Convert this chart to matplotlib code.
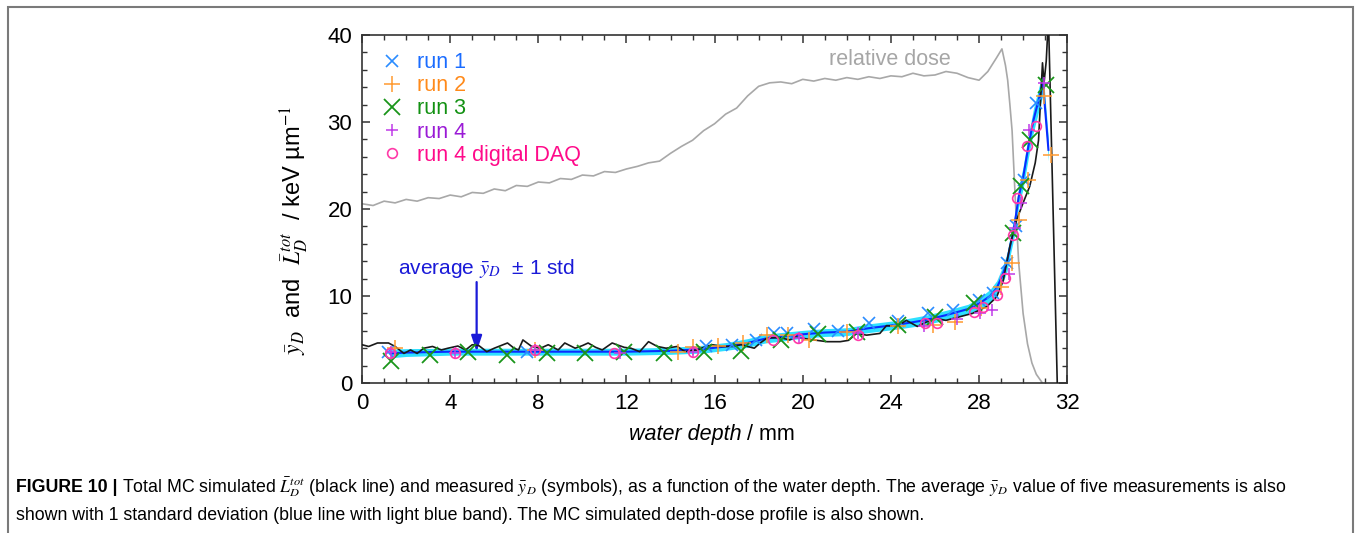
import numpy as np
import matplotlib
matplotlib.use("Agg")
import matplotlib.pyplot as plt
from matplotlib.patches import Rectangle
from matplotlib.ticker import MultipleLocator

plt.rcParams['font.family'] = ['Liberation Sans', 'DejaVu Sans']
plt.rcParams['mathtext.fontset'] = 'stix'

# relative dose (scaled to the y axis)
dose_x = [0.0, 0.5, 1.0, 1.5, 2.0, 2.5, 3.0, 3.5, 4.0, 4.5, 5.0, 5.5, 6.0, 6.5,
          7.0, 7.5, 8.0, 8.5, 9.0, 9.5, 10.0, 10.5, 11.0, 11.5, 12.0, 12.5, 13.0,
          13.5, 14.0, 14.5, 15.0, 15.5, 16.0, 16.5, 17.0, 17.5, 18.0, 18.5, 19.0,
          19.5, 20.0, 20.5, 21.0, 21.5, 22.0, 22.5, 23.0, 23.5, 24.0, 24.5, 25.0,
          25.5, 26.0, 26.5, 27.0, 27.5, 28.0, 28.4, 28.8, 29.04, 29.2, 29.3, 29.4,
          29.5, 29.64, 29.8, 30.0, 30.2, 30.4, 30.6, 30.85]
dose_y = [20.6, 20.4, 20.9, 20.7, 21.1, 20.9, 21.3, 21.2, 21.6, 21.4, 21.9, 21.8,
          22.3, 22.1, 22.7, 22.6, 23.1, 23.0, 23.5, 23.4, 23.9, 23.8, 24.3, 24.2,
          24.6, 24.9, 25.3, 25.5, 26.4, 27.2, 27.9, 29.0, 29.8, 30.9, 31.6, 33.0,
          34.1, 34.5, 34.6, 34.4, 34.9, 34.7, 35.0, 34.8, 35.1, 34.9, 35.2, 35.0,
          35.3, 35.2, 35.6, 35.3, 35.4, 35.8, 35.6, 35.1, 34.8, 35.8, 37.4, 38.4,
          36.5, 34.8, 32.0, 29.0, 21.4, 13.8, 8.0, 4.5, 2.3, 1.0, 0.1]

# MC simulated L_D^tot
mc_x = [0.0, 0.3, 0.7, 1.2, 1.5, 1.9, 2.2, 2.5, 2.8, 3.2, 3.6, 3.9, 4.35, 4.7,
        5.0, 5.3, 5.66, 6.0, 6.2, 6.6, 6.9, 7.1, 7.3, 7.7, 8.1, 8.45, 8.9, 9.2,
        9.67, 10.0, 10.26, 10.6, 10.9, 11.35, 11.56, 11.9, 12.2, 12.6, 13.0, 13.4,
        13.8, 14.3, 14.66, 15.2, 15.5, 15.9, 16.3, 16.85, 17.2, 17.5, 17.8, 18.07,
        18.4, 19.0, 19.4, 19.7, 20.1, 20.5, 21.1, 21.7, 22.07, 22.45, 22.9, 23.5,
        23.8, 24.27, 24.7, 25.2, 25.6, 26.1, 26.5, 27.1, 27.7, 28.36, 28.8, 29.1,
        29.4, 29.7, 30.0, 30.3, 30.55, 30.7, 30.8, 30.88, 30.95, 31.05, 31.15, 31.55]
mc_y = [4.4, 4.2, 4.6, 4.6, 4.2, 3.4, 3.8, 3.4, 4.0, 4.2, 3.8, 4.0, 4.25, 3.8,
        4.4, 4.3, 3.6, 4.0, 4.2, 4.6, 4.0, 3.8, 4.95, 4.2, 4.0, 4.4, 3.8, 4.6,
        4.0, 4.3, 4.6, 4.1, 3.8, 4.6, 4.4, 4.1, 4.0, 3.6, 4.75, 4.2,
        4.0, 4.2, 3.6, 3.8, 4.1, 4.4, 4.2, 4.2, 4.4, 4.2, 4.0, 4.6,
        5.2, 5.2, 4.95, 5.3, 5.1, 4.95, 4.75, 4.75, 4.9, 5.7, 5.5, 5.7,
        6.6, 6.5, 7.2, 6.5, 7.0, 7.4, 7.2, 7.6, 8.0, 8.8, 9.9, 11.8,
        15.7, 18.7, 20.7, 22.6, 25.3, 27.9, 32.9, 36.8, 34.5, 37.0, 42.0, 0.0]

# average y_D of five measurements and its standard deviation
avg_x = [1.3, 2.0, 4.0, 6.0, 8.0, 10.0, 12.0, 14.0, 15.5, 16.5, 17.5, 18.3, 19.0,
         20.0, 21.0, 22.0, 23.0, 24.3, 25.5, 26.5, 27.5, 28.05, 28.5, 28.8, 29.05,
         29.26, 29.45, 29.6, 29.8, 30.0, 30.24, 30.47, 30.7, 30.9, 31.15]
avg_y = [3.4, 3.5, 3.6, 3.6, 3.6, 3.6, 3.6, 3.7, 3.9, 4.2, 4.6, 5.1, 5.3,
         5.6, 5.8, 5.9, 6.3, 6.7, 7.2, 7.8, 8.5, 9.2, 10.0, 10.9, 12.3,
         13.8, 16.2, 18.0, 21.4, 23.6, 27.2, 30.2, 32.5, 34.5, 26.8]
avg_std = [0.5, 0.45, 0.4, 0.4, 0.4, 0.4, 0.4, 0.4, 0.45, 0.45, 0.5, 0.5, 0.5,
           0.45, 0.45, 0.45, 0.5, 0.5, 0.55, 0.55, 0.55, 0.65, 0.75, 0.85, 0.95,
           1.05, 1.1, 1.15, 1.15, 1.25, 1.3, 1.35, 1.35, 1.35, 1.25]

# measured runs
run1_x = [1.2, 7.5, 15.6, 16.8, 17.9, 18.7, 19.3, 20.5, 21.6, 23.0, 24.3, 25.7,
          26.8, 28.0, 28.65, 29.25, 29.7, 30.05, 30.6]
run1_y = [3.6, 3.6, 4.2, 4.4, 4.95, 5.7, 5.7, 6.2, 6.0, 6.9, 7.1, 8.0,
          8.4, 9.5, 10.3, 13.8, 18.0, 23.3, 32.2]
run2_x = [1.5, 7.85, 14.35, 15.0, 16.15, 17.3, 18.4, 19.35, 20.3, 22.0, 24.3, 25.9,
          26.9, 28.1, 29.0, 29.5, 29.8, 30.2, 30.95, 31.25]
run2_y = [4.0, 3.8, 3.6, 4.1, 4.3, 4.6, 5.5, 5.5, 5.0, 5.9, 6.5, 6.7,
          7.0, 8.6, 11.0, 13.8, 18.7, 23.3, 33.0, 26.2]
run3_x = [1.3, 3.1, 4.8, 6.6, 8.4, 10.1, 11.9, 13.7, 15.5, 17.2, 19.0, 20.7,
          22.45, 24.3, 26.0, 27.75, 29.55, 29.92, 30.3, 31.05]
run3_y = [2.5, 3.2, 3.6, 3.2, 3.4, 3.4, 3.6, 3.4, 3.6, 3.7, 5.0, 5.6,
          5.9, 6.7, 7.6, 9.2, 17.2, 22.6, 27.9, 34.3]
run4_x = [1.3, 4.2, 7.85, 11.7, 15.0, 19.85, 22.5, 25.5, 27.0, 28.05, 28.6,
          29.35, 29.65, 29.9, 30.25, 30.95]
run4_y = [3.6, 3.4, 3.8, 3.5, 3.6, 5.2, 5.7, 6.6, 7.3, 8.0, 8.4,
          12.5, 17.8, 20.7, 29.1, 34.5]
daq_x = [1.27, 4.2, 7.85, 11.45, 15.0, 18.65, 19.8, 22.5, 25.55, 26.1, 27.75, 28.2,
         28.8, 29.2, 29.56, 29.72, 30.17, 30.6]
daq_y = [3.4, 3.4, 3.8, 3.4, 3.6, 5.0, 5.2, 5.5, 6.9, 6.9, 8.2, 8.7,
         10.1, 12.1, 17.0, 21.3, 27.2, 29.5]

fig = plt.figure(figsize=(13.56, 5.33), dpi=100)
ax = fig.add_axes([0.267, 0.2814, 0.520, 0.653])

# frame round the whole figure
fig.patches.append(Rectangle((8 / 1356, -0.05), 1345 / 1356, 1 - 7 / 533 + 0.05,
                             transform=fig.transFigure, fill=False,
                             edgecolor='#7a7a7a', lw=1.5, clip_on=False))

ax.plot(dose_x, dose_y, color='#a8a8a8', lw=1.2, zorder=1)
lo = np.array(avg_y) - np.array(avg_std)
hi = np.array(avg_y) + np.array(avg_std)
ax.fill_between(avg_x, lo, hi, color='#2ee0ff', lw=0, zorder=2)
ax.plot(avg_x, avg_y, color='#0a2cff', lw=1.5, zorder=3)
ax.plot(mc_x, mc_y, color='#1a1a1a', lw=1.2, zorder=4)

ax.plot(run1_x, run1_y, 'x', color='#2a8cff', ms=8, mew=1.2, label='run 1', zorder=5)
ax.plot(run2_x, run2_y, '+', color='#ff9a30', ms=11, mew=1.1, label='run 2', zorder=5)
ax.plot(run3_x, run3_y, 'x', color='#1a951a', ms=11, mew=1.3, label='run 3', zorder=5)
ax.plot(run4_x, run4_y, '+', color='#c03ae8', ms=8, mew=1.1, label='run 4', zorder=5)
ax.plot(daq_x, daq_y, 'o', mfc='none', mec='#ff3aa8', ms=7, mew=1.2,
        label='run 4 digital DAQ', zorder=5)

ax.legend(loc='upper left', bbox_to_anchor=(0.012, 0.988), frameon=False,
          fontsize=15.5, handlelength=0.8, handletextpad=0.75, labelspacing=0.1,
          borderaxespad=0.2,
          labelcolor=['#1a6cff', '#ff8a1a', '#129112', '#9a1ad6', '#ff0a8a'])

ax.text(23.97, 37.2, 'relative dose', color='#a6a6a6', fontsize=15.5,
        ha='center', va='center')
ax.annotate(r'average $\bar{y}_D$  ± 1 std', xy=(5.2, 3.7), xytext=(1.65, 13.2),
            color='#1a1ad8', fontsize=15, va='center', ha='left')
ax.annotate('', xy=(5.2, 3.6), xytext=(5.2, 11.6),
            arrowprops=dict(arrowstyle='-|>,head_length=0.6,head_width=0.2',
                            color='#1a1ad8', lw=1.6,
                            mutation_scale=16, shrinkA=0, shrinkB=0))

ax.set_xlim(0, 32)
ax.set_ylim(0, 40)
ax.xaxis.set_major_locator(MultipleLocator(4))
ax.xaxis.set_minor_locator(MultipleLocator(1))
ax.yaxis.set_major_locator(MultipleLocator(10))
ax.yaxis.set_minor_locator(MultipleLocator(2))
ax.tick_params(which='both', direction='in', top=True, right=True, color='#333333')
ax.tick_params(which='major', length=6, width=1.1, labelsize=16, pad=7)
ax.tick_params(which='minor', length=3.5, width=1.0)
for s in ax.spines.values():
    s.set_linewidth(1.2)
    s.set_color('#333333')

ax.set_ylabel(r'$\bar{y}_D$  and  $\bar{L}_D^{tot}$  / keV µm$^{-1}$', fontsize=17)
ax.yaxis.set_label_coords(-0.072, 0.44)
ax.text(0.538, -0.148, 'water depth', style='italic', fontsize=15.5,
        transform=ax.transAxes, ha='right', va='center')
ax.text(0.538, -0.148, ' / mm', fontsize=15.5, transform=ax.transAxes,
        ha='left', va='center')

t1 = fig.text(16 / 1356, 1 - 487 / 533, 'FIGURE 10 |', fontsize=12.8,
              fontweight='bold', va='center')
ax.annotate(r'Total MC simulated $\bar{L}_D^{tot}$ (black line) and measured '
            r'$\bar{y}_D$ (symbols), as a function of the water depth. '
            r'The average $\bar{y}_D$ value of five measurements is also',
            xy=(1, 0.5), xycoords=t1, xytext=(3, 0), textcoords='offset points',
            fontsize=12.8, va='center', ha='left', annotation_clip=False)
fig.text(16 / 1356, 1 - 516 / 533,
         'shown with 1 standard deviation (blue line with light blue band). '
         'The MC simulated depth-dose profile is also shown.',
         fontsize=12.8, va='center')

fig.savefig('out.png', dpi=100)
